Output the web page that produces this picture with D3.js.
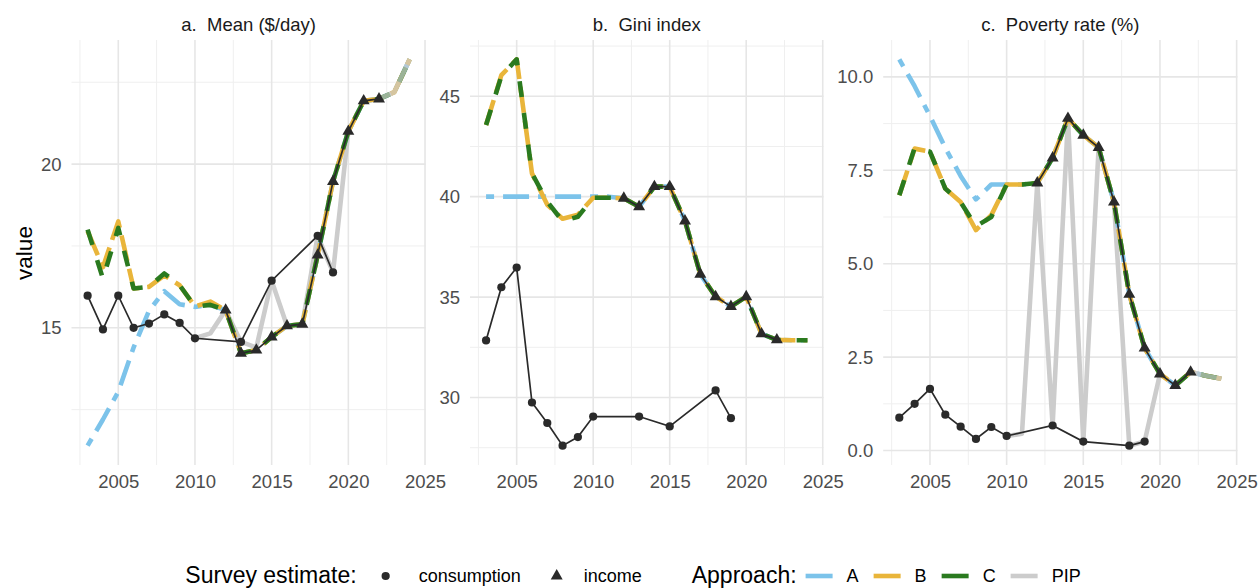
<!DOCTYPE html>
<html><head><meta charset="utf-8">
<script src="https://cdn.jsdelivr.net/npm/d3@7"></script>
<style>
body{margin:0;background:#fff}
text{font-family:"Liberation Sans",Arial,Helvetica,sans-serif}
</style>
</head><body>
<svg id="chart" width="1259" height="588"></svg>
<script>
// ---------- DATA ----------
const years = [2003,2004,2005,2006,2007,2008,2009,2010,2011,2012,2013,2014,2015,2016,2017,2018,2019,2020,2021,2022,2023,2024];
const xTicks = [2005,2010,2015,2020,2025];
const xMinor = [2002.5,2007.5,2012.5,2017.5,2022.5];
const nowcastFrom = 2022;

// Panel a: Mean ($/day)
const meanConsYears = [2003,2004,2005,2006,2007,2008,2009,2010,2013,2015,2018,2019];
const meanCons      = [15.98,14.95,15.98,15.0,15.13,15.41,15.15,14.68,14.57,16.44,17.81,16.69];
const meanIncYears  = [2012,2013,2014,2015,2016,2017,2018,2019,2020,2021,2022];
const meanInc       = [15.54,14.22,14.32,14.72,15.06,15.11,17.22,19.47,21.0,21.93,21.99];
const meanA   = [11.4,12.2,13.05,14.4,15.52,16.12,15.72,15.64,15.7,15.54,14.22,14.32,14.72,15.06,15.11,17.22,19.47,21.0,21.93,21.99,22.2,23.2];
const meanB   = [17.95,16.85,18.25,16.2,16.25,16.6,16.3,15.65,15.8,15.54,14.22,14.32,14.72,15.06,15.11,17.22,19.47,21.0,21.93,21.99,22.2,23.2];
const meanC   = [18.0,16.5,18.05,16.2,16.25,16.66,16.3,15.65,15.7,15.54,14.22,14.32,14.72,15.06,15.11,17.22,19.47,21.0,21.93,21.99,22.2,23.2];
const meanPIP = [null,null,null,null,null,null,null,14.68,14.83,15.54,14.57,14.4,16.44,15.06,15.11,17.81,16.69,21.0,21.93,21.99,22.2,23.2];
const meanTicks = [15,20];
const meanMinor = [12.5,17.5,22.5];

// Panel b: Gini index
const giniConsYears = [2003,2004,2005,2006,2007,2008,2009,2010,2013,2015,2018,2019];
const giniCons      = [32.84,35.49,36.47,29.75,28.73,27.6,28.03,29.05,29.05,28.56,30.35,28.97];
const giniIncYears  = [2012,2013,2014,2015,2016,2017,2018,2019,2020,2021,2022];
const giniInc       = [39.92,39.5,40.5,40.5,38.79,36.14,35.02,34.53,35.02,33.17,32.87];
const giniA   = [40,40,40,40,40,40,40,40,40,39.92,39.5,40.5,40.5,38.79,36.14,35.02,34.53,35.02,33.17,32.87,32.85,32.85];
const giniB   = [43.57,46.05,46.84,41.16,39.6,38.9,39.1,39.95,39.95,39.92,39.5,40.5,40.5,38.79,36.14,35.02,34.53,35.02,33.17,32.87,32.85,32.85];
const giniC   = [43.57,46.0,46.84,41.16,39.75,38.78,39.0,39.95,39.95,39.92,39.5,40.5,40.5,38.79,36.14,35.02,34.53,35.02,33.17,32.87,32.85,32.85];
const giniPIP = [null,null,null,null,null,null,null,null,null,null,null,null,null,null,null,null,null,null,null,null,null,null];
const giniTicks = [30,35,40,45];
const giniMinor = [27.5,32.5,37.5,42.5,47.5];

// Panel c: Poverty rate (%)
const povConsYears = [2003,2004,2005,2006,2007,2008,2009,2010,2013,2015,2018,2019];
const povCons      = [0.88,1.25,1.65,0.96,0.64,0.31,0.63,0.39,0.67,0.24,0.13,0.24];
const povIncYears  = [2012,2013,2014,2015,2016,2017,2018,2019,2020,2021,2022];
const povInc       = [7.16,7.83,8.89,8.44,8.11,6.65,4.18,2.74,2.05,1.74,2.1];
const povA   = [10.47,9.75,8.95,8.1,7.35,6.72,7.12,7.12,7.12,7.16,7.83,8.89,8.44,8.11,6.65,4.18,2.74,2.05,1.74,2.1,2.0,1.92];
const povB   = [6.83,8.08,8.0,7.01,6.65,5.9,6.3,7.12,7.12,7.16,7.83,8.89,8.44,8.11,6.65,4.18,2.74,2.05,1.74,2.1,2.0,1.92];
const povC   = [6.83,8.1,8.0,7.01,6.65,6.0,6.25,7.12,7.12,7.16,7.83,8.89,8.44,8.11,6.65,4.18,2.74,2.05,1.74,2.1,2.0,1.92];
const povPIP = [null,null,null,null,null,null,null,0.39,0.45,7.16,0.67,8.89,0.24,8.11,6.65,0.13,0.24,2.05,1.74,2.1,2.0,1.92];
const povTicks = [0,2.5,5,7.5,10];
const povMinor = [1.25,3.75,6.25,8.75];

const panelTitles = ["a.  Mean ($/day)","b.  Gini index","c.  Poverty rate (%)"];
const approaches = ["A","B","C","PIP"];
const surveyTypes = ["consumption","income"];

// ---------- STYLE ----------
const colors = {A:"#7cc3ea", B:"#e9b53a", C:"#2a7a1f", PIP:"#cccccc"};
const dashes = {A:"8,9,26,9", B:"26,8", C:"16,16", PIP:null};
const lineW = 4.6;
const black = "#2a2a2a";

const svg = d3.select("#chart");
const plotTop = 40, plotBottom = 465;

const panels = [
  {title:panelTitles[0], left:71.5, right:425.8, cons:[meanConsYears,meanCons], inc:[meanIncYears,meanInc],
   series:{A:meanA,B:meanB,C:meanC,PIP:meanPIP}, ticks:meanTicks, minor:meanMinor, fmt:d3.format("d")},
  {title:panelTitles[1], left:470.0, right:823.5, cons:[giniConsYears,giniCons], inc:[giniIncYears,giniInc],
   series:{A:giniA,B:giniB,C:giniC,PIP:giniPIP}, ticks:giniTicks, minor:giniMinor, fmt:d3.format("d")},
  {title:panelTitles[2], left:883.2, right:1237.4, cons:[povConsYears,povCons], inc:[povIncYears,povInc],
   series:{A:povA,B:povB,C:povC,PIP:povPIP}, ticks:povTicks, minor:povMinor, fmt:d3.format(".1f")}
];

const xExt = [2003, 2024];
const xPad = (xExt[1]-xExt[0])*0.05;

panels.forEach(p => {
  const allVals = [].concat(p.cons[1], p.inc[1], ...approaches.map(k => p.series[k].filter(v => v!=null)));
  const ext = d3.extent(allVals);
  const pad = (ext[1]-ext[0])*0.05;
  const x = d3.scaleLinear().domain([xExt[0]-xPad, xExt[1]+xPad]).range([p.left, p.right]);
  const y = d3.scaleLinear().domain([ext[0]-pad, ext[1]+pad]).range([plotBottom, plotTop]);
  const g = svg.append("g");

  // grid
  g.selectAll(".hmin").data(p.minor).join("line")
    .attr("x1",p.left).attr("x2",p.right).attr("y1",d=>y(d)).attr("y2",d=>y(d))
    .attr("stroke","#efefef").attr("stroke-width",1);
  g.selectAll(".vmin").data(xMinor).join("line")
    .attr("y1",plotTop).attr("y2",plotBottom).attr("x1",d=>x(d)).attr("x2",d=>x(d))
    .attr("stroke","#efefef").attr("stroke-width",1);
  g.selectAll(".hmaj").data(p.ticks).join("line")
    .attr("x1",p.left).attr("x2",p.right).attr("y1",d=>y(d)).attr("y2",d=>y(d))
    .attr("stroke","#e6e6e6").attr("stroke-width",1.6);
  g.selectAll(".vmaj").data(xTicks).join("line")
    .attr("y1",plotTop).attr("y2",plotBottom).attr("x1",d=>x(d)).attr("x2",d=>x(d))
    .attr("stroke","#e6e6e6").attr("stroke-width",1.6);

  // axes labels
  const yAxis = d3.axisLeft(y).tickValues(p.ticks).tickFormat(p.fmt).tickSize(0).tickPadding(10);
  const ya = g.append("g").attr("transform",`translate(${p.left},0)`).call(yAxis);
  ya.select(".domain").remove();
  ya.selectAll("text").attr("fill","#4d4d4d").style("font-size","18.5px").style("font-family",'"Liberation Sans",Arial,sans-serif');
  const xAxis = d3.axisBottom(x).tickValues(xTicks).tickFormat(d3.format("d")).tickSize(0).tickPadding(10);
  const xa = g.append("g").attr("transform",`translate(0,${plotBottom})`).call(xAxis);
  xa.select(".domain").remove();
  xa.selectAll("text").attr("fill","#4d4d4d").style("font-size","18.5px").style("font-family",'"Liberation Sans",Arial,sans-serif');

  // title
  g.append("text").attr("x",(p.left+p.right)/2).attr("y",31).attr("text-anchor","middle")
    .style("font-size","18.5px").style("white-space","pre").attr("fill","#1a1a1a").text(p.title);

  // approach lines
  const line = d3.line().defined(d => d[1]!=null).x(d=>x(d[0])).y(d=>y(d[1]));
  ["PIP","A","B","C"].forEach(k => {
    const pts = years.map((yr,i)=>[yr, p.series[k][i]]);
    if (!pts.some(d=>d[1]!=null)) return;
    g.append("path").datum(pts).attr("d",line).attr("fill","none")
      .attr("stroke",colors[k]).attr("stroke-width",lineW)
      .attr("stroke-linejoin","round")
      .attr("stroke-dasharray",dashes[k]);
  });
  // PIP nowcast segment drawn semi-transparent on top
  const nowPts = years.map((yr,i)=>[yr, p.series.PIP[i]]).filter(d => d[0] >= nowcastFrom && d[1]!=null);
  if (nowPts.length > 1) {
    g.append("path").datum(nowPts).attr("d",line).attr("fill","none")
      .attr("stroke",colors.PIP).attr("stroke-width",lineW).attr("stroke-opacity",0.7)
      .attr("stroke-linejoin","round");
  }

  // survey lines
  const sl = d3.line().x(d=>x(d[0])).y(d=>y(d[1]));
  [p.cons,p.inc].forEach(s => {
    g.append("path").datum(s[0].map((yr,i)=>[yr,s[1][i]])).attr("d",sl)
      .attr("fill","none").attr("stroke",black).attr("stroke-width",1.7);
  });
  g.selectAll(".cpt").data(p.cons[0].map((yr,i)=>[yr,p.cons[1][i]])).join("circle")
    .attr("cx",d=>x(d[0])).attr("cy",d=>y(d[1])).attr("r",4.1).attr("fill",black);
  const tri = d3.symbol().type(d3.symbolTriangle).size(62);
  g.selectAll(".ipt").data(p.inc[0].map((yr,i)=>[yr,p.inc[1][i]])).join("path")
    .attr("d",tri).attr("transform",d=>`translate(${x(d[0])},${y(d[1])})`).attr("fill",black);
});

// y axis title
svg.append("text").attr("transform","translate(32,253) rotate(-90)").attr("text-anchor","middle")
  .style("font-size","22.5px").attr("fill","#000").text("value");

// ---------- LEGEND ----------
const leg = svg.append("g");
let cx = 0;
const ly = 576;
function addText(t, size, base){
  const el = leg.append("text").attr("x",cx).attr("y",base)
    .style("font-size",size).attr("fill","#000").text(t);
  cx += el.node().getComputedTextLength();
}
addText("Survey estimate:","23px",583);
cx += 16;
leg.append("circle").attr("cx",cx+13).attr("cy",ly).attr("r",4.1).attr("fill",black);
cx += 27 + 19;
addText(surveyTypes[0],"18px",582);
cx += 23;
leg.append("path").attr("d",d3.symbol().type(d3.symbolTriangle).size(62)).attr("transform",`translate(${cx+13},${ly})`).attr("fill",black);
cx += 27 + 13;
addText(surveyTypes[1],"18px",582);
cx += 50;
addText("Approach:","23px",583);
cx += 9;
approaches.forEach((k,i) => {
  leg.append("line").attr("x1",cx).attr("x2",cx+27).attr("y1",ly).attr("y2",ly)
    .attr("stroke",colors[k]).attr("stroke-width",4.6);
  cx += 27 + 14;
  addText(k,"18px",582);
  cx += 15;
});
const bb = leg.node().getBBox();
leg.attr("transform",`translate(${633 - (bb.x + bb.width/2)},0)`);
</script>
</body></html>
